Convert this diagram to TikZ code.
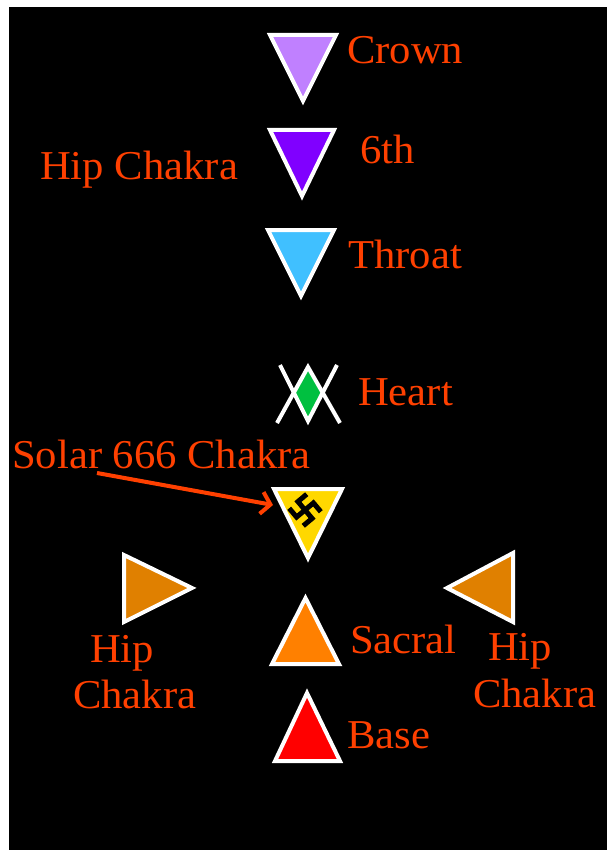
\documentclass[tikz,border=0pt]{standalone}
\usepackage{fontspec}
\setmainfont{Liberation Serif}[FakeStretch=1.04]
\usetikzlibrary{arrows.meta}
\definecolor{txt}{HTML}{FF4000}
\definecolor{ccrown}{HTML}{C080FF}
\definecolor{csixth}{HTML}{8000FF}
\definecolor{cthroat}{HTML}{40C0FF}
\definecolor{cheart}{HTML}{00C040}
\definecolor{csolar}{HTML}{FFD800}
\definecolor{chip}{HTML}{E08000}
\definecolor{csacral}{HTML}{FF8000}
\definecolor{cbase}{HTML}{FF0000}
\tikzset{
  lbl/.style={text=txt, font=\fontsize{41}{48}\selectfont, anchor=base west, inner sep=0pt},
  tri/.style={draw=white, line width=4pt, line join=miter},
  heartline/.style={draw=white, line width=4pt},
  solararrow/.style={draw=txt, line width=4pt, -{Straight Barb[length=9pt,width=22pt]}},
}
\begin{document}
\begin{tikzpicture}[x=1pt,y=-1pt]
\useasboundingbox (0,0) rectangle (607,850);
\fill[white] (0,0) rectangle (607,850);
\fill[black] (9,7) rectangle (607,850);
% down triangles
\draw[tri, fill=ccrown] (270,35) -- (336,35) -- (303,101) -- cycle;
\draw[tri, fill=csixth] (270,130) -- (334,130) -- (302,196) -- cycle;
\draw[tri, fill=cthroat] (268,230) -- (334,230) -- (301,296) -- cycle;
\draw[tri, fill=csolar] (274,489) -- (342,489) -- (308,558) -- cycle;
% up triangles
\draw[tri, fill=csacral] (272,664) -- (339,664) -- (305.5,598) -- cycle;
\draw[tri, fill=cbase] (275,761) -- (340,761) -- (307,693) -- cycle;
% side triangles
\draw[tri, fill=chip] (124,555) -- (124,622) -- (192,588) -- cycle;
\draw[tri, fill=chip] (513,553) -- (513,622) -- (447,588) -- cycle;
% heart
\fill[cheart] (308,367) -- (294,392) -- (308,420) -- (322,392) -- cycle;
\draw[heartline] (280,365) -- (308,421) -- (337,365);
\draw[heartline] (277,423) -- (308,367) -- (340,423);
% swastika
\begin{scope}[shift={(305,510)}, rotate=40]
  \draw[black, line width=5pt, line cap=rect, line join=miter]
    (0,-11) -- (0,11) (-11,0) -- (11,0)
    (0,-11) -- (9,-11) (11,0) -- (11,9) (0,11) -- (-9,11) (-11,0) -- (-11,-9);
\end{scope}
% labels
\node[lbl] (crown) at (347,64) {Crown};
\node[lbl] (sixth) at (360,164) {6th};
\node[lbl] (hiptop) at (40,180) {Hip Chakra};
\node[lbl] (throat) at (348,268) {Throat};
\node[lbl] (heart) at (358,405) {Heart};
\node[lbl] (solar) at (12,468) {Solar 666 Chakra};
\node[lbl] (sacral) at (350,653) {Sacral};
\node[lbl] (base) at (347,748) {Base};
\node[lbl] (hipl1) at (90,662) {Hip};
\node[lbl] (hipl2) at (73,708) {Chakra};
\node[lbl] (hipr1) at (488,660) {Hip};
\node[lbl] (hipr2) at (473,707) {Chakra};
% arrow
\coordinate (arrS) at (97,473);
\coordinate (arrE) at (273,505);
\draw[solararrow] (arrS) -- (arrE);
\end{tikzpicture}
\end{document}
